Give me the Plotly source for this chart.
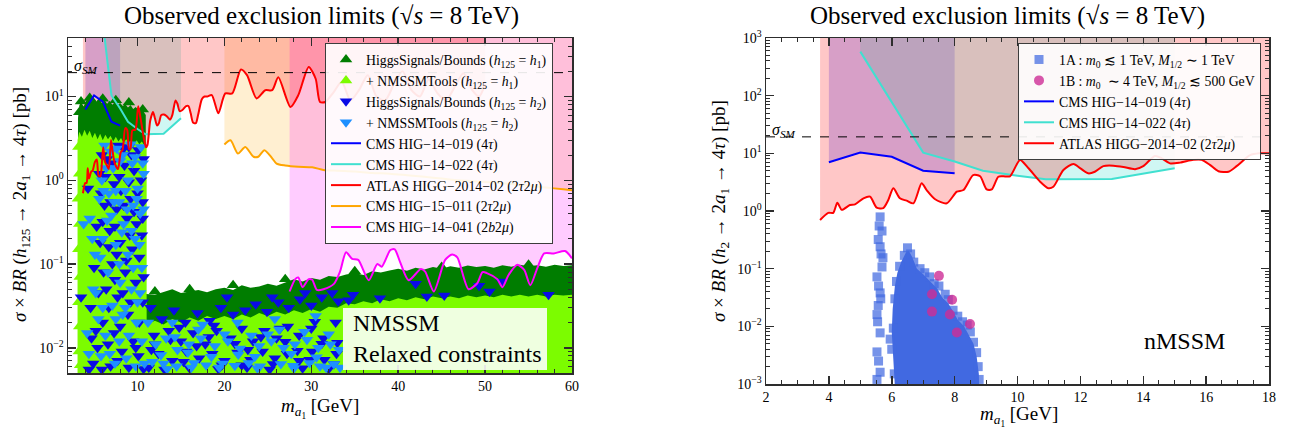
import plotly.graph_objects as go

W, H = 1289, 430
SERIF = "Liberation Serif, Times New Roman, serif"

# ============================ DATA ============================
sigma_sm = 19.3

# CMS HIG-14-019 (4tau)
cms019_x = [4, 5, 6, 7, 8]
cms019_y = [7.0, 10.3, 8.7, 5.0, 4.5]

# CMS HIG-14-022 (4tau)
cms022_x = [5, 7, 8, 8.9, 10, 10.9, 13, 15]
cms022_y = [580, 10.3, 7.2, 5.0, 4.1, 3.55, 3.6, 5.5]

# ATLAS HIGG-2014-02 (2tau2mu)
atlas_x = [3.72, 3.98, 4.14, 4.27, 4.41, 4.67, 4.83, 5.10, 5.31, 5.52, 5.73, 5.89, 6.05, 6.26,
           6.47, 6.69, 6.95, 7.11, 7.38, 7.75, 8.07, 8.28, 8.59, 8.81, 9.02, 9.18, 9.39, 9.55,
           9.76, 10.08, 10.35, 10.72, 10.98, 11.14, 11.46, 11.78, 12.0, 12.25, 12.46, 12.73,
           13.05, 13.37, 13.74, 14.0, 14.37, 14.59, 14.85, 15.17, 15.59, 15.86, 16.12, 16.39,
           16.71, 16.97, 17.4, 17.7, 18.03, 18.55, 19.3, 20.1, 20.9, 21.9, 22.6, 23.7, 24.7,
           25.5, 26.2, 27.6, 28.5, 29.7, 30.5, 31.0, 31.6, 32.5, 33.5, 34.5, 35.5, 36.5, 37.5,
           38.5, 39.5, 40.5, 41.5, 42.5, 43.5, 44.5, 45.5, 46.5, 47.5, 48.5, 49.3, 50.0]
atlas_y = [0.70, 0.93, 0.93, 1.39, 1.05, 1.27, 1.30, 1.66, 1.77, 1.14, 1.12, 1.55, 2.48, 1.66,
           1.51, 1.36, 3.02, 2.31, 1.60, 1.36, 2.16, 2.31, 4.2, 4.0, 2.37, 2.37, 3.93, 4.0,
           4.0, 7.67, 5.5, 3.22, 2.48, 2.63, 5.14, 6.53, 5.5, 4.5, 4.8, 6.0,
           6.1, 5.8, 5.3, 6.0, 9.0, 8.2, 6.7, 6.9, 7.7, 7.7, 6.3, 4.9,
           4.8, 6.0, 9.3, 10.0, 10.0, 10.4, 6.3, 10.9, 10.9, 21.0, 18.0, 9.5, 11.9,
           11.9, 17.0, 7.5, 10.4, 22.6, 16.3, 8.6, 8.6, 11.0, 15.0, 9.0, 12.0, 18.0, 10.0,
           9.0, 14.0, 20.0, 12.0, 10.0, 16.0, 11.0, 9.0, 13.0, 19.0, 12.0, 10.0, 14.0]

# CMS HIG-15-011 (2tau2mu)
cms011_x = [20.0, 20.7, 21.55, 22.4, 23.35, 23.9, 24.6, 25.5, 26.0, 27.0, 28.5, 30.1, 31.4,
            33, 35, 37, 39, 41, 43, 45, 47, 49, 51, 53, 55, 57, 59, 60]
cms011_y = [2.68, 3.0, 2.09, 2.5, 1.91, 1.91, 2.29, 1.83, 1.58, 1.5, 1.45, 1.43, 1.33,
            1.3, 1.27, 1.22, 1.2, 1.15, 1.1, 1.05, 1.0, 0.97, 0.94, 0.9, 0.86, 0.82, 0.78, 0.76]

# CMS HIG-14-041 (2b2mu)
cms041_x = [27.5, 28.15, 28.5, 29.0, 29.7, 30.1, 30.65, 31.4, 32.6, 33.3, 34.0, 34.7, 35.4,
            36.6, 37.6, 38.1, 39.1, 39.6, 40.2, 41.2, 42.6, 43.1, 44.1, 45.4, 46.2, 46.8,
            48.1, 49.1, 49.7, 50.2, 51.4, 52.0, 52.7, 53.7, 54.5, 55.2, 56.0, 56.8, 57.9,
            59.2, 60.0]
cms041_y = [0.047, 0.066, 0.069, 0.053, 0.066, 0.065, 0.049, 0.05, 0.058, 0.081, 0.138, 0.115,
            0.112, 0.064, 0.1, 0.093, 0.147, 0.15, 0.107, 0.064, 0.087, 0.081, 0.047, 0.112,
            0.13, 0.12, 0.05, 0.059, 0.08, 0.078, 0.066, 0.053, 0.074, 0.098, 0.085, 0.056,
            0.089, 0.134, 0.134, 0.143, 0.117]

# NMSSM scan: envelopes of the dense point clouds (h125 = h1)
hs_h1_lowm_x = [3.15, 3.3, 3.5, 3.8, 4.1, 4.4, 4.7, 5.0, 5.3, 5.6, 5.9, 6.2, 6.5, 6.8, 7.1,
                7.4, 7.7, 8.0, 8.3, 8.6, 8.9, 9.2, 9.5, 9.8, 10.1, 10.4, 10.7, 10.95]
hs_h1_lowm_top = [5.5, 7.8, 8.6, 7.6, 8.9, 9.6, 8.8, 9.5, 8.7, 9.3, 8.4, 9.0, 8.2, 8.9, 8.0,
                  8.6, 7.9, 8.4, 7.7, 8.1, 7.4, 7.9, 7.1, 7.5, 6.9, 7.3, 6.6, 6.0]
nt_h1_lowm_x = [3.1, 3.3, 3.6, 3.9, 4.2, 4.5, 4.8, 5.1, 5.4, 5.7, 6.0, 6.3, 6.6, 6.9, 7.2,
                7.5, 7.8, 8.1, 8.4, 8.7, 9.0, 9.3, 9.6, 9.9, 10.2, 10.5, 10.8, 11.05]
nt_h1_lowm_top = [3.0, 3.8, 3.3, 4.0, 3.4, 3.9, 3.2, 3.7, 3.1, 3.6, 3.0, 3.5, 3.1, 3.4, 2.9,
                  3.3, 2.9, 3.2, 2.8, 3.1, 2.8, 3.0, 2.7, 3.0, 2.7, 2.9, 2.6, 2.4]
hs_h1_highm_x = [10.8, 11, 12, 13, 14, 15, 16, 17, 18, 19, 20, 21, 22, 23, 24, 25, 26, 27, 28,
                 29, 30, 31, 32, 33, 34, 35, 36, 37, 38, 39, 40, 41, 42, 43, 44, 45, 46, 47,
                 48, 49, 50, 51, 52, 53, 54, 55, 56, 57, 58, 59, 60]
hs_h1_highm_top = [0.042, 0.044, 0.043, 0.046, 0.05, 0.045, 0.047, 0.049, 0.046, 0.05, 0.052,
                   0.049, 0.056, 0.052, 0.054, 0.058, 0.055, 0.06, 0.066, 0.062, 0.068, 0.065,
                   0.072, 0.07, 0.075, 0.078, 0.074, 0.082, 0.079, 0.084, 0.088, 0.083, 0.09,
                   0.086, 0.092, 0.088, 0.094, 0.09, 0.096, 0.092, 0.095, 0.09, 0.097, 0.093,
                   0.098, 0.094, 0.097, 0.093, 0.098, 0.095, 0.097]
nt_h1_highm_top = [0.02, 0.019, 0.021, 0.019, 0.022, 0.02, 0.023, 0.021, 0.024, 0.022, 0.024,
                   0.022, 0.025, 0.023, 0.026, 0.024, 0.027, 0.025, 0.028, 0.026, 0.029, 0.027,
                   0.031, 0.03, 0.034, 0.033, 0.036, 0.034, 0.038, 0.036, 0.039, 0.037, 0.04,
                   0.038, 0.041, 0.039, 0.041, 0.039, 0.042, 0.04, 0.042, 0.04, 0.043, 0.041,
                   0.043, 0.041, 0.043, 0.041, 0.043, 0.042, 0.043]

# individual points on the cloud edges (h125 = h1)
hs_h1_pts_x = [3.3, 3.5, 4.5, 6.0, 7.5, 9.0, 10.6, 12.0, 16.0, 21.0, 27.0, 35.0, 45.0, 55.0]
hs_h1_pts_y = [6.5, 8.7, 9.6, 9.4, 9.0, 8.5, 7.0, 0.047, 0.05, 0.056, 0.066, 0.082, 0.092, 0.098]
nt_h1_pts_x = [3.2, 3.3, 3.15, 3.3, 3.2, 3.35, 3.2, 3.3, 3.25, 3.4, 12.5, 15.2, 18.0, 22.2,
               26.0, 29.0, 31.8, 20.5, 24.8, 13.8, 5.2, 6.1, 7.9, 9.1, 4.1, 8.4, 10.4,
               6.4, 8.7, 7.2, 9.6, 5.8]
nt_h1_pts_y = [2.5, 1.2, 0.6, 0.3, 0.15, 0.07, 0.035, 0.018, 0.009, 0.0062, 0.011, 0.0075,
               0.014, 0.0063, 0.009, 0.012, 0.0085, 0.017, 0.0068, 0.009, 0.4, 0.035, 0.11,
               0.019, 0.12, 0.5, 0.07, 0.6, 0.2, 0.07, 0.03, 0.3]

# h125 = h2 points
hs_h2_x = [7.8, 9.0, 10.1, 5.6, 6.5, 8.5, 9.6, 10.4, 7.3, 8.1, 9.2, 10.6, 4.3, 6.2, 7.6, 8.8,
           9.9, 10.5, 6.8, 5.3, 8.0, 9.4, 10.2, 7.1, 5.0, 8.6, 9.8, 6.4, 7.7, 10.6, 4.6, 8.9,
           6.0, 7.3, 9.5, 5.4, 8.2, 10.1, 4.9, 6.9, 9.0, 3.5,
           5.9, 7.0, 8.4, 9.3, 10.7, 6.3, 7.9, 9.0, 10.0, 5.8, 6.9, 8.4, 9.6, 10.6, 6.0, 7.4,
           9.1, 5.7, 6.7, 7.6, 8.7, 10.7, 6.1, 7.4, 8.3, 9.2, 5.5, 6.7, 10.2, 8.0, 5.2, 6.6,
           9.8, 7.7, 5.9, 10.7, 4.7, 4.4,
           11.5, 12.8, 14.2, 15.5, 16.9, 18.3, 19.6, 21.0, 22.4, 23.6, 24.9, 26.2, 27.4, 28.7,
           30.0, 31.2, 32.4, 33.1, 29.3, 25.5, 20.3,
           11.9, 13.6, 15.0, 16.4, 17.8, 19.1, 20.7, 22.0, 23.3, 24.6, 26.0, 27.3, 28.6, 30.0,
           31.4, 32.8,
           12.4, 14.0, 15.6, 17.1, 18.6, 20.0, 21.5, 23.0, 24.4, 25.8, 27.2, 28.6, 30.1, 31.5,
           32.9, 11.3, 13.1, 16.0, 19.3, 22.6, 25.2, 29.0, 32.0,
           12.0, 13.8, 15.3, 16.8, 18.2, 19.7, 21.2, 22.7, 24.2, 25.6, 27.0, 28.4, 29.8, 31.2,
           32.6, 11.6, 14.8, 18.8, 22.0, 26.4, 30.4, 33.0,
           34.8, 37.9, 34.3, 42.0, 43.3, 45.3, 49.3, 50.5, 51.9, 57.3]
hs_h2_y = [2.6, 2.5, 2.3, 1.2, 1.8, 1.5, 1.3, 1.0, 0.9, 0.75, 0.6, 0.55, 0.8, 0.5, 0.45, 0.35,
           0.3, 0.22, 0.25, 0.28, 0.18, 0.15, 0.12, 0.1, 0.09, 0.08, 0.06, 0.05, 0.04, 0.035,
           0.03, 0.025, 0.02, 0.015, 0.012, 0.01, 0.009, 0.008, 0.0065, 0.006, 0.0058, 0.04,
           2.0, 1.6, 2.4, 2.0, 1.8, 1.1, 1.1, 0.95, 0.7, 0.7, 0.55, 0.5, 0.42, 0.35, 0.32, 0.28,
           0.22, 0.18, 0.16, 0.13, 0.11, 0.07, 0.08, 0.065, 0.045, 0.035, 0.045, 0.03, 0.02,
           0.018, 0.016, 0.011, 0.01, 0.007, 0.0055, 0.0056, 0.013, 0.0055,
           0.03, 0.022, 0.028, 0.02, 0.026, 0.021, 0.03, 0.025, 0.028, 0.033, 0.027, 0.035,
           0.03, 0.038, 0.032, 0.04, 0.045, 0.036, 0.045, 0.04, 0.04,
           0.014, 0.016, 0.012, 0.015, 0.011, 0.016, 0.013, 0.017, 0.012, 0.016, 0.013, 0.018,
           0.014, 0.017, 0.013, 0.02,
           0.0085, 0.007, 0.009, 0.0075, 0.0085, 0.007, 0.0088, 0.0072, 0.009, 0.0075, 0.0085,
           0.007, 0.009, 0.0072, 0.0085, 0.0058, 0.0055, 0.0057, 0.0056, 0.0058, 0.0055,
           0.0057, 0.0056,
           0.011, 0.0125, 0.0068, 0.0105, 0.0135, 0.0062, 0.0112, 0.0095, 0.0135, 0.0064,
           0.0118, 0.0092, 0.0072, 0.0112, 0.0064, 0.0095, 0.0175, 0.0185, 0.0062, 0.017,
           0.0205, 0.0115,
           0.043, 0.039, 0.037, 0.058, 0.041, 0.042, 0.055, 0.047, 0.062, 0.043]
nt_h2_x = [6.9, 8.3, 9.7, 10.6, 7.2, 5.9, 8.9, 10.0, 6.7, 7.9, 9.5, 10.3, 5.6, 7.0, 8.4, 9.3,
           6.0, 7.5, 8.9, 10.5, 5.7, 6.6, 8.0, 9.3, 10.3, 5.2, 7.1, 8.6, 9.9, 6.3, 7.9, 4.2,
           10.5, 5.8, 8.7, 7.4, 9.8, 3.8, 4.8, 4.4,
           6.2, 7.6, 9.2, 10.4, 8.0, 9.4, 6.4, 10.7, 7.5, 8.6, 9.9, 6.1, 7.3, 8.8, 10.7, 9.7,
           10.2, 8.2, 6.5, 7.9, 9.5, 10.0, 7.5, 6.0, 9.0, 8.3, 10.8, 6.8, 5.5, 4.9, 5.1, 4.5,
           11.2, 12.1, 13.3, 14.6, 15.9, 17.3, 18.9, 20.4, 21.8, 23.1, 24.0, 25.4, 26.8, 28.1,
           29.5, 30.8, 32.2, 11.7, 13.0, 14.5, 16.5, 17.9, 19.8, 21.2, 22.8, 24.1, 26.5, 27.9,
           29.8, 31.0, 32.6, 33.3, 14.0, 17.5, 21.5, 25.8, 30.5,
           12.7, 14.3, 15.8, 17.0, 18.5, 20.0, 21.6, 23.5, 25.0, 26.3, 27.7, 29.2, 30.6, 32.0,
           33.2, 13.4, 16.2, 19.4, 23.8, 28.0, 31.7]
nt_h2_y = [2.2, 2.0, 1.9, 1.6, 1.4, 1.0, 1.0, 0.8, 0.7, 0.55, 0.5, 0.4, 0.6, 0.38, 0.3, 0.25,
           0.2, 0.17, 0.13, 0.09, 0.12, 0.08, 0.06, 0.05, 0.045, 0.045, 0.032, 0.03, 0.02,
           0.014, 0.012, 0.015, 0.012, 0.008, 0.0075, 0.0065, 0.006, 0.3, 0.2, 0.0085,
           2.6, 2.4, 2.7, 2.5, 1.7, 1.6, 1.4, 1.2, 0.75, 0.75, 0.6, 0.75, 0.55, 0.45, 0.45, 0.2,
           0.17, 0.24, 0.33, 0.1, 0.09, 0.035, 0.022, 0.03, 0.014, 0.025, 0.0065, 0.0085, 0.022,
           0.05, 0.13, 0.35,
           0.02, 0.011, 0.013, 0.0095, 0.011, 0.013, 0.0105, 0.012, 0.0098, 0.014, 0.0105,
           0.012, 0.01, 0.011, 0.0125, 0.01, 0.011, 0.0068, 0.0065, 0.006, 0.0066, 0.0062,
           0.0065, 0.0061, 0.0066, 0.006, 0.0064, 0.0061, 0.0066, 0.006, 0.0064, 0.0058,
           0.02, 0.019, 0.02, 0.022, 0.024,
           0.0082, 0.0135, 0.0088, 0.0165, 0.0078, 0.0145, 0.0083, 0.0078, 0.0145, 0.0165,
           0.0085, 0.0155, 0.0077, 0.0145, 0.0095, 0.0056, 0.0058, 0.0058, 0.0057, 0.0057,
           0.0058]

# nMSSM benchmark points (right panel)
p1a_core_x = [6.1, 6.05, 6.0, 6.03, 6.1, 6.18, 6.3, 6.45, 6.55, 6.65, 6.8, 7.0, 7.2, 7.45, 7.6,
              7.8, 7.95, 8.1, 8.3, 8.45, 8.6, 8.7, 8.77, 8.78]
p1a_core_y = [0.0009, 0.003, 0.008, 0.02, 0.05, 0.085, 0.13, 0.19, 0.2, 0.16, 0.1, 0.08, 0.062,
              0.045, 0.032, 0.025, 0.018, 0.013, 0.01, 0.007, 0.005, 0.003, 0.0015, 0.0009]
p1a_x = [5.63, 5.69, 5.57, 5.63, 5.72, 5.69, 5.53, 5.63, 5.57, 5.53, 5.63, 5.53, 5.63, 5.53,
         5.6, 5.66, 5.58, 5.65, 5.55, 5.58,
         6.5, 6.4, 6.6, 6.25, 6.9, 6.7, 7.2, 7.05, 7.5, 7.8, 7.95, 7.7, 8.4, 8.1, 8.6, 8.5,
         8.75, 8.7, 8.78, 6.05, 6.1, 6.0, 6.08, 6.15, 5.95, 7.35, 8.25]
p1a_y = [0.79, 0.45, 0.32, 0.24, 0.155, 0.107, 0.072, 0.038, 0.023, 0.016, 0.0077, 0.0036,
         0.0016, 0.0012, 0.55, 0.18, 0.05, 0.03, 0.012, 0.0025,
         0.23, 0.17, 0.18, 0.11, 0.1, 0.13, 0.072, 0.085, 0.05, 0.029, 0.019, 0.036, 0.0105,
         0.015, 0.0053, 0.008, 0.002, 0.0035, 0.0012, 0.0093, 0.03, 0.004, 0.0015, 0.06, 0.006,
         0.055, 0.012]
p1b_x = [7.5, 7.28, 7.92, 7.28, 7.85, 8.49, 8.07]
p1b_y = [0.075, 0.036, 0.029, 0.018, 0.016, 0.011, 0.0078]

left_ytick_vals = [0.01, 0.1, 1, 10]
left_ytick_text = ["10<sup>\u22122</sup>", "10<sup>\u22121</sup>", "10<sup>0</sup>", "10<sup>1</sup>"]
right_ytick_vals = [0.001, 0.01, 0.1, 1, 10, 100, 1000]
right_ytick_text = ["10<sup>\u22123</sup>", "10<sup>\u22122</sup>", "10<sup>\u22121</sup>",
                    "10<sup>0</sup>", "10<sup>1</sup>", "10<sup>2</sup>", "10<sup>3</sup>"]
left_xtick_vals = [10, 20, 30, 40, 50, 60]
right_xtick_vals = [2, 4, 6, 8, 10, 12, 14, 16, 18]

# ============================ STYLE ============================
TOP, BOTTOM = 1e4, 1e-4
C_BLUE, C_CYAN, C_RED, C_ORANGE, C_MAG = "#0000ff", "#40e0d0", "#ff0000", "#ffa500", "#ff00ff"
F_BLUE, F_CYAN, F_RED = "rgba(0,0,255,0.2)", "rgba(64,224,208,0.25)", "rgba(255,0,0,0.22)"
F_ORANGE, F_MAG = "rgba(255,165,0,0.18)", "rgba(255,0,255,0.2)"
C_DG, C_LG, C_DB, C_LB = "rgb(0,125,0)", "rgb(124,252,0)", "rgb(10,10,230)", "rgb(30,144,255)"
C_SQ, C_CIRC = "rgba(65,105,225,0.72)", "rgba(205,45,150,0.8)"
LEG_FS = 13.8


def px_x(p):
    return p / W


def px_y(p):
    return 1 - p / H


fig = go.Figure()


def add_fill_above(x, y, color, xa, ya, shape="linear"):
    fig.add_trace(go.Scatter(x=[x[0], x[-1]], y=[TOP, TOP], mode="lines", line=dict(width=0),
                             hoverinfo="skip", showlegend=False, xaxis=xa, yaxis=ya))
    fig.add_trace(go.Scatter(x=x, y=y, mode="lines",
                             line=dict(width=0, shape=shape, smoothing=0.7),
                             fill="tonexty", fillcolor=color, hoverinfo="skip",
                             showlegend=False, xaxis=xa, yaxis=ya))


def add_cloud(x, ytop, color, xa, ya):
    fig.add_trace(go.Scatter(x=x + [x[-1], x[0]], y=ytop + [BOTTOM, BOTTOM], mode="lines",
                             line=dict(width=0), fill="toself", fillcolor=color,
                             hoverinfo="skip", showlegend=False, xaxis=xa, yaxis=ya))


# ---------------- left panel ----------------
add_fill_above(cms019_x, cms019_y, F_BLUE, "x", "y")
add_fill_above(cms022_x, cms022_y, F_CYAN, "x", "y")
add_fill_above(cms011_x, cms011_y, F_ORANGE, "x", "y", "spline")
add_fill_above(cms041_x, cms041_y, F_MAG, "x", "y", "spline")
add_fill_above(atlas_x, atlas_y, F_RED, "x", "y", "spline")

add_cloud(hs_h1_lowm_x, hs_h1_lowm_top, C_DG, "x", "y")
add_cloud(hs_h1_highm_x, hs_h1_highm_top, C_DG, "x", "y")
add_cloud(nt_h1_lowm_x, nt_h1_lowm_top, C_LG, "x", "y")
add_cloud(hs_h1_highm_x, nt_h1_highm_top, C_LG, "x", "y")

TRI = 11
fig.add_trace(go.Scatter(x=hs_h1_pts_x, y=hs_h1_pts_y, mode="markers", legend="legend", legendrank=1,
                         name="HiggsSignals/Bounds (<i>h</i><sub>125</sub> = <i>h</i><sub>1</sub>)",
                         marker=dict(symbol="triangle-up", size=TRI, color=C_DG, line=dict(width=0)),
                         xaxis="x", yaxis="y"))
fig.add_trace(go.Scatter(x=nt_h1_pts_x, y=nt_h1_pts_y, mode="markers", legend="legend", legendrank=2,
                         name="+ NMSSMTools (<i>h</i><sub>125</sub> = <i>h</i><sub>1</sub>)",
                         marker=dict(symbol="triangle-up", size=TRI, color=C_LG, line=dict(width=0)),
                         xaxis="x", yaxis="y"))
fig.add_trace(go.Scatter(x=hs_h2_x, y=hs_h2_y, mode="markers", legend="legend", legendrank=3,
                         name="HiggsSignals/Bounds (<i>h</i><sub>125</sub> = <i>h</i><sub>2</sub>)",
                         marker=dict(symbol="triangle-down", size=TRI, color=C_DB, line=dict(width=0)),
                         xaxis="x", yaxis="y"))
fig.add_trace(go.Scatter(x=nt_h2_x, y=nt_h2_y, mode="markers", legend="legend", legendrank=4,
                         name="+ NMSSMTools (<i>h</i><sub>125</sub> = <i>h</i><sub>2</sub>)",
                         marker=dict(symbol="triangle-down", size=TRI, color=C_LB, line=dict(width=0)),
                         xaxis="x", yaxis="y"))

LW = 2
fig.add_trace(go.Scatter(x=cms022_x, y=cms022_y, mode="lines", legend="legend", legendrank=6,
                         name="CMS HIG\u221214\u2212022 (4<i>\u03c4</i>)",
                         line=dict(color=C_CYAN, width=LW), xaxis="x", yaxis="y"))
fig.add_trace(go.Scatter(x=cms019_x, y=cms019_y, mode="lines", legend="legend", legendrank=5,
                         name="CMS HIG\u221214\u2212019 (4<i>\u03c4</i>)",
                         line=dict(color=C_BLUE, width=LW), xaxis="x", yaxis="y"))
fig.add_trace(go.Scatter(x=cms011_x, y=cms011_y, mode="lines", legend="legend", legendrank=8,
                         name="CMS HIG\u221215\u2212011 (2<i>\u03c4</i>2<i>\u03bc</i>)",
                         line=dict(color=C_ORANGE, width=LW, shape="spline", smoothing=0.7),
                         xaxis="x", yaxis="y"))
fig.add_trace(go.Scatter(x=cms041_x, y=cms041_y, mode="lines", legend="legend", legendrank=9,
                         name="CMS HIG\u221214\u2212041 (2<i>b</i>2<i>\u03bc</i>)",
                         line=dict(color=C_MAG, width=LW, shape="spline", smoothing=0.7),
                         xaxis="x", yaxis="y"))
fig.add_trace(go.Scatter(x=atlas_x, y=atlas_y, mode="lines", legend="legend", legendrank=7,
                         name="ATLAS HIGG\u22122014\u221202 (2<i>\u03c4</i>2<i>\u03bc</i>)",
                         line=dict(color=C_RED, width=LW, shape="spline", smoothing=0.7),
                         xaxis="x", yaxis="y"))
fig.add_trace(go.Scatter(x=[2, 60], y=[sigma_sm, sigma_sm], mode="lines", showlegend=False,
                         line=dict(color="black", width=1, dash="dash"), xaxis="x", yaxis="y"))

# ---------------- right panel ----------------
add_fill_above(cms019_x, cms019_y, F_BLUE, "x2", "y2")
add_fill_above(cms022_x, cms022_y, F_CYAN, "x2", "y2")
add_fill_above(atlas_x, atlas_y, F_RED, "x2", "y2", "spline")

fig.add_trace(go.Scatter(x=p1a_core_x + [p1a_core_x[0]], y=p1a_core_y + [p1a_core_y[0]],
                         mode="lines", line=dict(width=0), fill="toself",
                         fillcolor="rgb(65,105,225)", hoverinfo="skip", showlegend=False,
                         xaxis="x2", yaxis="y2"))
fig.add_trace(go.Scatter(x=p1a_x, y=p1a_y, mode="markers", legend="legend2", legendrank=1,
                         name="1A : <i>m</i><sub>0</sub> \u2272 1 TeV, <i>M</i><sub>1/2</sub> \u223c 1 TeV",
                         marker=dict(symbol="square", size=9, color=C_SQ, line=dict(width=0)),
                         xaxis="x2", yaxis="y2"))
fig.add_trace(go.Scatter(x=p1b_x, y=p1b_y, mode="markers", legend="legend2", legendrank=2,
                         name="1B : <i>m</i><sub>0</sub>  \u223c 4 TeV, <i>M</i><sub>1/2</sub> \u2272 500 GeV",
                         marker=dict(symbol="circle", size=10, color=C_CIRC, line=dict(width=0)),
                         xaxis="x2", yaxis="y2"))
fig.add_trace(go.Scatter(x=cms022_x, y=cms022_y, mode="lines", legend="legend2", legendrank=4,
                         name="CMS HIG\u221214\u2212022 (4<i>\u03c4</i>)",
                         line=dict(color=C_CYAN, width=LW), xaxis="x2", yaxis="y2"))
fig.add_trace(go.Scatter(x=cms019_x, y=cms019_y, mode="lines", legend="legend2", legendrank=3,
                         name="CMS HIG\u221214\u2212019 (4<i>\u03c4</i>)",
                         line=dict(color=C_BLUE, width=LW), xaxis="x2", yaxis="y2"))
fig.add_trace(go.Scatter(x=atlas_x, y=atlas_y, mode="lines", legend="legend2", legendrank=5,
                         name="ATLAS HIGG\u22122014\u221202 (2<i>\u03c4</i>2<i>\u03bc</i>)",
                         line=dict(color=C_RED, width=LW, shape="spline", smoothing=0.7),
                         xaxis="x2", yaxis="y2"))
fig.add_trace(go.Scatter(x=[2, 18], y=[sigma_sm, sigma_sm], mode="lines", showlegend=False,
                         line=dict(color="black", width=1, dash="dash"), xaxis="x2", yaxis="y2"))

# ---------------- axes ----------------
AX_COL = "rgb(45,45,45)"
tickfont = dict(family=SERIF, size=14, color="black")


def log_minor(lo, hi):
    return [m * 10.0 ** e for e in range(lo, hi) for m in range(2, 10)]


common = dict(showgrid=False, zeroline=False, showline=True, linecolor=AX_COL, linewidth=1.5,
              mirror="ticks", ticks="inside", ticklen=8, tickwidth=1.5, tickcolor=AX_COL,
              tickfont=tickfont, automargin=False)

fig.update_layout(
    width=W, height=H, margin=dict(l=0, r=0, t=0, b=0, pad=0), autosize=False,
    paper_bgcolor="white", plot_bgcolor="white",
    font=dict(family=SERIF, color="black"),
    hovermode=False,
    xaxis=dict(domain=[px_x(68), px_x(572)], range=[2, 60], anchor="y",
               tickmode="array", tickvals=left_xtick_vals,
               minor=dict(dtick=2, tick0=0, ticks="inside", ticklen=4, tickwidth=1, tickcolor=AX_COL),
               **common),
    yaxis=dict(domain=[px_y(373), px_y(38)], type="log", range=[-2.301, 1.699], anchor="x",
               tickmode="array", tickvals=left_ytick_vals, ticktext=left_ytick_text,
               minor=dict(tickmode="array", tickvals=log_minor(-3, 2), ticks="inside", ticklen=4,
                          tickwidth=1, tickcolor=AX_COL),
               **common),
    xaxis2=dict(domain=[px_x(766), px_x(1269)], range=[2, 18], anchor="y2",
                tickmode="array", tickvals=right_xtick_vals,
                minor=dict(dtick=0.5, tick0=0, ticks="inside", ticklen=4, tickwidth=1, tickcolor=AX_COL),
                **common),
    yaxis2=dict(domain=[px_y(384), px_y(38)], type="log", range=[-3, 3], anchor="x2",
                tickmode="array", tickvals=right_ytick_vals, ticktext=right_ytick_text,
                minor=dict(tickmode="array", tickvals=log_minor(-3, 3), ticks="inside", ticklen=4,
                           tickwidth=1, tickcolor=AX_COL),
                **common),
    legend=dict(x=px_x(325), y=px_y(43), xanchor="left", yanchor="top",
                bgcolor="rgba(255,255,255,0.9)", bordercolor="rgb(60,60,60)", borderwidth=1,
                font=dict(family=SERIF, size=LEG_FS, color="black"), tracegroupgap=0,
                traceorder="normal"),
    legend2=dict(x=px_x(1018), y=px_y(43), xanchor="left", yanchor="top",
                 bgcolor="rgba(255,255,255,0.9)", bordercolor="rgb(60,60,60)", borderwidth=1,
                 font=dict(family=SERIF, size=LEG_FS, color="black"), tracegroupgap=0,
                 traceorder="normal"),
    showlegend=True,
)

# text box in left panel
fig.add_shape(type="rect", xref="paper", yref="paper", x0=px_x(343), x1=px_x(547),
              y0=px_y(370), y1=px_y(308), fillcolor="rgba(255,255,255,0.88)",
              line=dict(width=0), layer="above")

ann = []
title = "Observed exclusion limits (\u221a<i>s</i> = 8 TeV)"
ann.append(dict(text=title, x=px_x(321), y=px_y(16), font=dict(size=25)))
ann.append(dict(text=title, x=px_x(1008), y=px_y(16), font=dict(size=25)))
ann.append(dict(text="<i>\u03c3</i> \u00d7 <i>BR</i> (<i>h</i><sub>125</sub> \u2192 2<i>a</i><sub>1</sub> \u2192 4<i>\u03c4</i>) [pb]",
                x=px_x(21), y=px_y(205), textangle=-90, font=dict(size=19)))
ann.append(dict(text="<i>\u03c3</i> \u00d7 <i>BR</i> (<i>h</i><sub>2</sub> \u2192 2<i>a</i><sub>1</sub> \u2192 4<i>\u03c4</i>) [pb]",
                x=px_x(720), y=px_y(211), textangle=-90, font=dict(size=19)))
ann.append(dict(text="<i>m</i><sub><i>a</i><sub>1</sub></sub> [GeV]", x=px_x(320), y=px_y(408), font=dict(size=19)))
ann.append(dict(text="<i>m</i><sub><i>a</i><sub>1</sub></sub> [GeV]", x=px_x(1019), y=px_y(416), font=dict(size=19)))
ann.append(dict(text="<i>\u03c3</i><sub><i>SM</i></sub>", x=px_x(85), y=px_y(66), font=dict(size=16)))
ann.append(dict(text="<i>\u03c3</i><sub><i>SM</i></sub>", x=px_x(783), y=px_y(130), font=dict(size=16)))
ann.append(dict(text="NMSSM<br>Relaxed constraints", x=px_x(351), y=px_y(338), xanchor="left",
                align="left", font=dict(size=24)))
ann.append(dict(text="nMSSM", x=px_x(1184), y=px_y(341), font=dict(size=24)))

for a in ann:
    a.setdefault("xanchor", "center")
    a.update(xref="paper", yref="paper", yanchor="middle", showarrow=False)
    a["font"] = dict(family=SERIF, color="black", **a["font"])
fig.update_layout(annotations=ann)

fig.write_html("out.html", config={"displayModeBar": False, "staticPlot": True},
               post_script="document.body.style.margin='0';document.body.style.overflow='hidden';")
